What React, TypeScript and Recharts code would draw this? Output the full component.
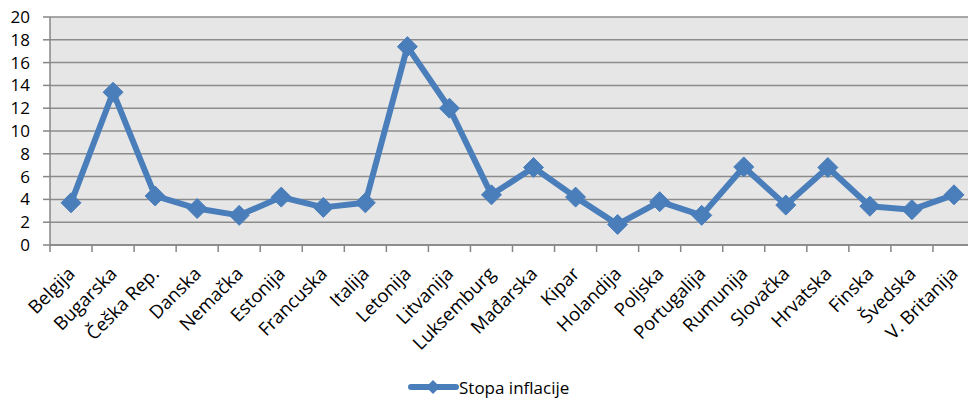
import React from 'react';
import { LineChart, Line, XAxis, YAxis, CartesianGrid, Legend } from 'recharts';

const categories = [
  'Belgija', 'Bugarska', 'Češka Rep.', 'Danska', 'Nemačka', 'Estonija', 'Francuska', 'Italija',
  'Letonija', 'Litvanija', 'Luksemburg', 'Mađarska', 'Kipar', 'Holandija', 'Poljska',
  'Portugalija', 'Rumunija', 'Slovačka', 'Hrvatska', 'Finska', 'Švedska', 'V. Britanija',
];
const inflation = [
  3.7, 13.4, 4.3, 3.2, 2.6, 4.2, 3.3, 3.7, 17.4, 12.0, 4.4, 6.8, 4.2, 1.8, 3.8,
  2.6, 6.85, 3.5, 6.8, 3.4, 3.1, 4.4,
];
const yTicks = [0, 2, 4, 6, 8, 10, 12, 14, 16, 18, 20];
const seriesName = 'Stopa inflacije';

const data = categories.map((name, i) => ({ name, value: inflation[i] }));

const CHART_W = 976;
const CHART_H = 402;
const Y_AXIS_W = 50;
const MARGIN = { top: 17, right: 1, left: 0, bottom: 0 };
const PLOT_W = CHART_W - Y_AXIS_W - MARGIN.left - MARGIN.right;
const STEP = PLOT_W / categories.length;
const BLUE = '#4a7ebb';
const AXIS_GRAY = '#868686';
const FONT = '"Open Sans", "Noto Sans", sans-serif';

function Diamond(props: any) {
  const { cx, cy } = props;
  if (cx == null || cy == null) return null;
  const r = 10;
  return (
    <polygon
      points={`${cx},${cy - r} ${cx + r},${cy} ${cx},${cy + r} ${cx - r},${cy}`}
      fill={BLUE}
      stroke={BLUE}
      strokeWidth={1}
    />
  );
}

// boundary tick marks (between categories) + rotated label
function CategoryTick(props: any) {
  const { x, y, payload } = props;
  const tx = x + 5;
  const ty = y + 23;
  return (
    <g>
      <line x1={x - STEP / 2} y1={y - 7} x2={x - STEP / 2} y2={y} stroke={AXIS_GRAY} strokeWidth={1.5} />
      <text
        x={tx}
        y={ty}
        textAnchor="end"
        transform={`rotate(-45 ${tx} ${ty})`}
        fontSize={18.5}
        fontFamily={FONT}
        fill="#000"
      >
        {payload.value}
      </text>
    </g>
  );
}

function LegendContent() {
  return (
    <div style={{ height: 30, display: 'flex', alignItems: 'center', paddingLeft: 408, fontFamily: FONT }}>
      <svg width={51} height={20}>
        <line x1={3} y1={10} x2={48} y2={10} stroke={BLUE} strokeWidth={6} strokeLinecap="round" />
        <polygon points="25,3 32,10 25,17 18,10" fill={BLUE} />
      </svg>
      <span style={{ fontSize: 17, color: '#000' }}>{seriesName}</span>
    </div>
  );
}

export default function App() {
  return (
    <div
      style={{
        position: 'absolute',
        left: 0,
        top: 0,
        width: 968,
        height: 402,
        overflow: 'hidden',
        background: '#fff',
        fontFamily: FONT,
      }}
    >
      <LineChart width={CHART_W} height={CHART_H} data={data} margin={MARGIN}>
        <CartesianGrid vertical={false} stroke="#8c8c8c" strokeWidth={1.5} fill="#e6e6e6" />
        <XAxis
          dataKey="name"
          interval={0}
          height={127}
          padding={{ left: STEP / 2, right: STEP / 2 }}
          tickSize={7}
          tickMargin={0}
          tickLine={false}
          axisLine={{ stroke: AXIS_GRAY, strokeWidth: 1.5 }}
          tick={<CategoryTick />}
        />
        <YAxis
          width={Y_AXIS_W}
          domain={[0, 20]}
          ticks={yTicks}
          interval={0}
          tickSize={7}
          tickMargin={13}
          axisLine={{ stroke: AXIS_GRAY, strokeWidth: 1.5 }}
          tickLine={{ stroke: AXIS_GRAY, strokeWidth: 1.5 }}
          tick={{ fill: '#000', fontSize: 17, fontFamily: FONT }}
        />
        <Legend verticalAlign="bottom" content={<LegendContent />} />
        <Line
          type="linear"
          dataKey="value"
          name={seriesName}
          stroke={BLUE}
          strokeWidth={6}
          strokeLinejoin="round"
          dot={<Diamond />}
          activeDot={false}
          isAnimationActive={false}
        />
      </LineChart>
    </div>
  );
}
